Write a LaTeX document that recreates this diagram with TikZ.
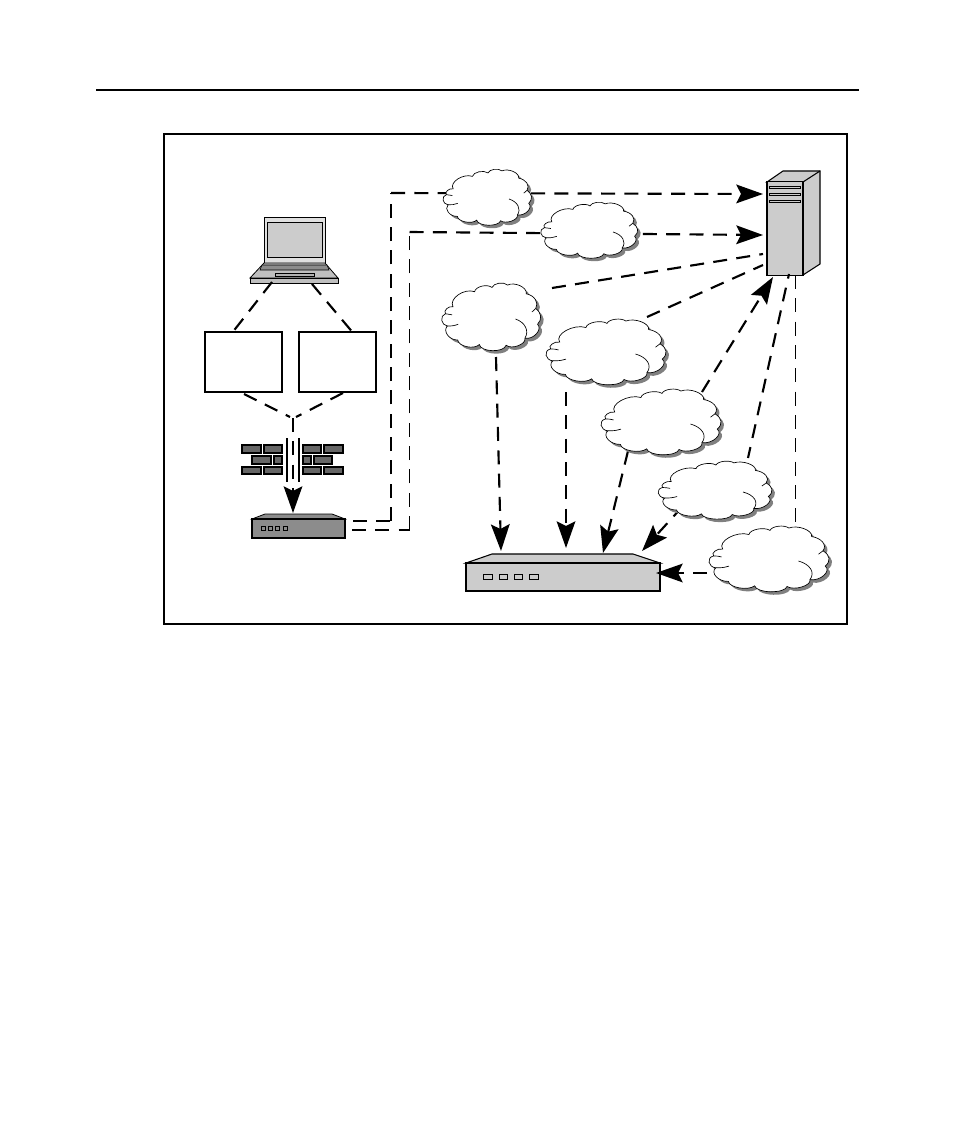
\documentclass[tikz,border=0pt]{standalone}
\usepackage{xcolor}
\usepackage{tikz}
\usetikzlibrary{arrows.meta, positioning, calc}

% outline of one cloud, unit size
\newcommand{\cloudoutline}{
    (-.83,-.35) to[bend left=70] (-.37,-.78) to[bend left=65] (0,-.9) to[bend left=65] (.33,-.97)
    to[bend left=65] (.73,-.72) to[bend left=50] (.93,-.30) to[bend left=40] (.97,.15)
    to[bend left=70] (.70,.55) to[bend left=75] (.30,.75) to[bend left=80] (-.27,.73)
    to[bend left=70] (-.73,.60) to[bend left=65] (-.95,.2) to[bend left=75] (-.99,-.15)
    to[bend left=70] (-.83,-.35) -- cycle
}

\begin{document}
\begin{tikzpicture}[
    x=0.75pt, y=-0.75pt,
    frame/.style={draw=black, line width=1.5pt},
    paperbox/.style={rectangle, draw=black, fill=white, line width=1.2pt, inner sep=0pt, minimum width=57.5pt, minimum height=45pt},
    towerface/.style={rectangle, draw=black, fill=black!20, line width=0.8pt, inner sep=0pt, minimum width=27pt, minimum height=70pt},
    casing/.style={draw=black, line width=0.8pt},
    brick/.style={draw=black, fill=black!60, line width=1pt},
    led/.style={draw=black, line width=0.6pt},
    link/.style={line width=1.6pt, dash pattern=on 10.5pt off 7pt},
    thinlink/.style={line width=0.7pt, dash pattern=on 10.5pt off 7pt},
    arrow/.style={link, -{Stealth[length=20pt, width=14pt, inset=3.5pt]}}
]
    % page rule and frame
    \coordinate (ruleL) at (96,90);
    \coordinate (ruleR) at (859,90);
    \useasboundingbox (0,0) rectangle (954,1145);
    \draw [line width=1.5pt] (ruleL) -- (ruleR);
    \draw [frame] (164,134) rectangle (847,624);

    % boxes, tower
    \node (boxL) [paperbox] at (243.5,362) {};
    \node (boxR) [paperbox] at (337.5,362) {};
    \draw [casing, fill=black!20] (767,182) -- (783,171) -- (820,171) -- (820,264) -- (803,275) -- (803,182) -- cycle;
    \draw [casing] (803,182) -- (820,171);
    \node (tower) [towerface] at (785,228.5) {};
    \draw [led, fill=black!20] (769,186) rectangle (800,188.5);
    \draw [led, fill=black!20] (769,193) rectangle (800,195.5);
    \draw [led, fill=black!20] (769,200) rectangle (800,202.5);

    % laptop
    \draw [casing, line width=0.6pt, fill=black!12] (264,217) rectangle (325,263);
    \draw [casing, line width=0.6pt, fill=black!20] (267,222) rectangle (322,257);
    \draw [casing, line width=0.6pt, fill=black!25] (264,263) -- (325,263) -- (338,278) -- (250,278) -- cycle;
    \draw [casing, line width=0.4pt, fill=black!45] (262,265) -- (327,265) -- (329,270) -- (260,270) -- cycle;
    \draw [casing, line width=0.4pt, fill=black!30] (275,273) rectangle (314,276);
    \draw [casing, line width=0.6pt, fill=black!25] (250,278) rectangle (338,283);

    % wall
    \draw [brick] (242,445) rectangle (261,453);
    \draw [brick] (264,445) rectangle (282,453);
    \draw [brick] (252,456) rectangle (271,464);
    \draw [brick] (274,456) rectangle (282,464);
    \draw [brick] (242,467) rectangle (261,474);
    \draw [brick] (264,467) rectangle (282,474);
    \draw [brick] (303,445) rectangle (321,453);
    \draw [brick] (324,445) rectangle (343,453);
    \draw [brick] (303,456) rectangle (311,464);
    \draw [brick] (314,456) rectangle (332,464);
    \draw [brick] (303,467) rectangle (321,474);
    \draw [brick] (324,467) rectangle (343,474);
    \draw [line width=1.2pt] (287,438) -- (287,482);
    \draw [line width=1.2pt] (299,438) -- (299,482);

    % small router
    \draw [casing, line width=0.6pt, fill=black!45] (252,519) -- (265,514) -- (332,514) -- (345,519) -- cycle;
    \node (smallbox) [rectangle, draw=black, fill=black!45, line width=0.8pt, inner sep=0pt, minimum width=69.75pt, minimum height=14.25pt] at (298.5,528.5) {};
    \draw [led] (261,526.5) rectangle (265,530);
    \draw [led] (268,526.5) rectangle (272,530);
    \draw [led] (275,526.5) rectangle (279,530);
    \draw [led] (283,526.5) rectangle (287,530);

    % big router
    \draw [casing, fill=black!20] (466,563) -- (492,554) -- (633,554) -- (660,563) -- cycle;
    \node (bigbox) [rectangle, draw=black, fill=black!20, line width=0.8pt, inner sep=0pt, minimum width=145.5pt, minimum height=21pt] at (563,577) {};
    \draw [led, fill=black!20] (483,574) rectangle (492,579);
    \draw [led, fill=black!20] (499,574) rectangle (507,579);
    \draw [led, fill=black!20] (514,574) rectangle (522,579);
    \draw [led, fill=black!20] (529,574) rectangle (538,579);

    % free ends of the links
    \coordinate (lapL) at (272,282);
    \coordinate (lapR) at (312,284);
    \coordinate (inL) at (232,333);
    \coordinate (inR) at (354,334);
    \coordinate (outL) at (244,394);
    \coordinate (outR) at (343,393);
    \coordinate (fork) at (293,418);
    \coordinate (forkL) at (290,417);
    \coordinate (forkR) at (296,417);
    \coordinate (smallTop) at (293,513);
    \coordinate (upA) at (353,521);
    \coordinate (cornerA) at (391,521);
    \coordinate (turnA) at (391,193);
    \coordinate (upB) at (352,530);
    \coordinate (cornerB) at (409.5,530);
    \coordinate (turnB) at (409.5,232);
    \coordinate (towerA) at (763,194);
    \coordinate (towerB) at (763,235);
    \coordinate (towerC) at (763,254);
    \coordinate (towerD) at (763,265);
    \coordinate (towerE) at (773,277);
    \coordinate (towerF) at (789,274);
    \coordinate (towerG) at (795,275);
    \coordinate (fromC) at (552,288);
    \coordinate (fromD) at (647,317);
    \coordinate (fromE) at (702,392);
    \coordinate (toF) at (748,458);
    \coordinate (toG) at (795,523);
    \coordinate (downC) at (496,357);
    \coordinate (downD) at (566,392);
    \coordinate (downE) at (628,451);
    \coordinate (downF) at (683,506);
    \coordinate (downG) at (707,573);
    \coordinate (bigA) at (501,551);
    \coordinate (bigB) at (566,548);
    \coordinate (bigC) at (603,553);
    \coordinate (bigD) at (642,551);
    \coordinate (bigE) at (656,573);

    % links
    \draw [link] (lapL) -- (inL);
    \draw [link] (lapR) -- (inR);
    \draw [link] (outL) -- (forkL);
    \draw [link] (outR) -- (forkR);
    \draw [arrow] (fork) -- (smallTop);
    \draw [link] (upA) -- (cornerA);
    \draw [link] (cornerA) -- (turnA);
    \draw [arrow] (turnA) -- (towerA);
    \draw [link] (upB) -- (cornerB);
    \draw [thinlink] (cornerB) -- (turnB);
    \draw [arrow] (turnB) -- (towerB);
    \draw [link] (fromC) -- (towerC);
    \draw [link] (fromD) -- (towerD);
    \draw [arrow] (fromE) -- (towerE);
    \draw [link, dash phase=7pt] (towerF) -- (toF);
    \draw [thinlink] (towerG) -- (toG);
    \draw [arrow] (downC) -- (bigA);
    \draw [arrow] (downD) -- (bigB);
    \draw [arrow] (downE) -- (bigC);
    \draw [arrow] (downF) -- (bigD);
    \draw [arrow] (downG) -- (bigE);

    % clouds
    \foreach \cx/\cy/\rx/\ry in {488/199/42/29, 590/232/46/29, 492/319/47/35, 607/354/57/34, 662/424/57/34, 716/492/54/30, 770/561/57/34} {
        \begin{scope}[shift={(\cx+3,\cy+3)}, xscale=\rx, yscale=\ry]
            \fill [black!50] \cloudoutline;
        \end{scope}
        \begin{scope}[shift={(\cx,\cy)}, xscale=\rx, yscale=\ry]
            \draw [fill=white, line width=0.5pt] \cloudoutline;
            \draw [line width=0.5pt] (-.95,.2) to[bend right=15] (-.72,.15);
            \draw [line width=0.5pt] (-.99,-.15) to[bend left=10] (-.85,-.12);
            \draw [line width=0.5pt] (.50,.0) to[bend left=45] (.70,.55);
            \draw [line width=0.5pt] (.93,-.30) -- (.85,-.2);
        \end{scope}
    }
\end{tikzpicture}
\end{document}
